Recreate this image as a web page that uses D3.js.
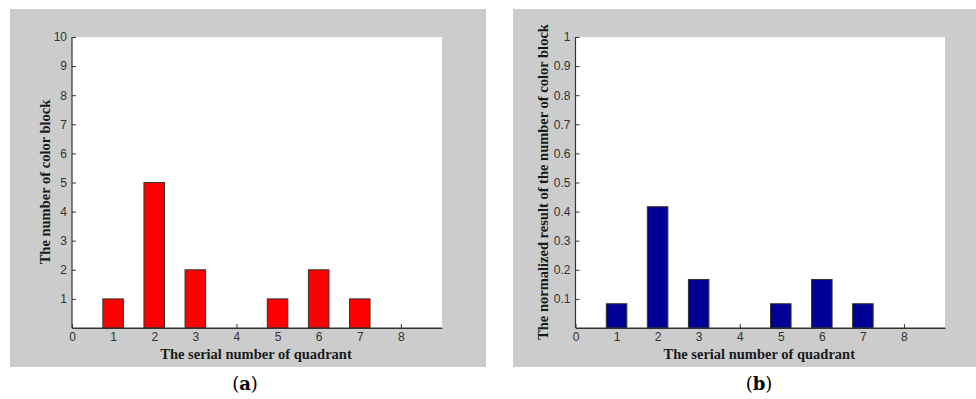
<!DOCTYPE html>
<html>
<head>
<meta charset="utf-8">
<script src="https://cdn.jsdelivr.net/npm/d3@7"></script>
<style>
  html, body { margin: 0; padding: 0; background: #ffffff; }
  svg { display: block; }
</style>
</head>
<body>
<svg id="chart" width="976" height="399"></svg>
<script>
// ---- data ----
const quadrants = [1, 2, 3, 4, 5, 6, 7, 8];
const countValues = [1, 5, 2, 0, 1, 2, 1, 0];
const normalizedValues = [0.0833, 0.4167, 0.1667, 0, 0.0833, 0.1667, 0.0833, 0];
const xTickValues = [0, 1, 2, 3, 4, 5, 6, 7, 8];
const countTicks = [1, 2, 3, 4, 5, 6, 7, 8, 9, 10];
const normTicks = [0.1, 0.2, 0.3, 0.4, 0.5, 0.6, 0.7, 0.8, 0.9, 1];
const xLabel = "The serial number of quadrant";
const yLabelA = "The number of color block";
const yLabelB = "The normalized result of the number of color block";

const svg = d3.select("#chart");

const panels = [
  { bg: [10, 9, 476, 358], plot: [72, 442], values: countValues, yMax: 10, ticks: countTicks,
    color: "#ff0000", ylabel: yLabelA, ylabelX: 45, caption: "a", capX: 245 },
  { bg: [513, 9, 463, 358], plot: [575.5, 945], values: normalizedValues, yMax: 1, ticks: normTicks,
    color: "#000096", ylabel: yLabelB, ylabelX: 543, caption: "b", capX: 759 }
];

const yTop = 37, yBottom = 328;

panels.forEach(p => {
  const g = svg.append("g");
  g.append("rect")
    .attr("x", p.bg[0]).attr("y", p.bg[1])
    .attr("width", p.bg[2]).attr("height", p.bg[3])
    .attr("fill", "#cccccc");

  const x = d3.scaleLinear().domain([0, 9]).range(p.plot);
  const y = d3.scaleLinear().domain([0, p.yMax]).range([yBottom, yTop]);

  g.append("rect")
    .attr("x", p.plot[0]).attr("y", yTop)
    .attr("width", p.plot[1] - p.plot[0]).attr("height", yBottom - yTop)
    .attr("fill", "#ffffff");

  const yAxis = d3.axisLeft(y).tickValues(p.ticks).tickSizeInner(-4).tickSizeOuter(0).tickPadding(5)
    .tickFormat(d3.format("~g"));
  const xAxis = d3.axisBottom(x).tickValues(xTickValues).tickSizeInner(-4).tickSizeOuter(0).tickPadding(4)
    .tickFormat(d3.format("d"));

  const ya = g.append("g").attr("transform", `translate(${p.plot[0]},0)`).call(yAxis);
  const xa = g.append("g").attr("transform", `translate(0,${yBottom})`).call(xAxis);
  [ya, xa].forEach(a => {
    a.select(".domain").attr("stroke", "#333333").attr("stroke-width", 1.2);
    a.selectAll(".tick line").attr("stroke", "#333333");
    a.selectAll(".tick text").attr("fill", "#333333")
      .style("font-family", "'Liberation Sans', Arial, sans-serif").style("font-size", "12px");
  });
  ya.select(".domain").attr("d", `M0,${yBottom}V${yTop}`);

  g.append("g").selectAll("rect").data(quadrants.map((q, i) => ({ q, v: p.values[i] })).filter(d => d.v > 0))
    .join("rect")
    .attr("x", d => x(d.q - 0.25))
    .attr("width", d => x(d.q + 0.25) - x(d.q - 0.25))
    .attr("y", d => y(d.v))
    .attr("height", d => yBottom - y(d.v))
    .attr("fill", p.color)
    .attr("stroke", "#333333")
    .attr("stroke-width", 1);

  g.append("line")
    .attr("x1", p.plot[0]).attr("x2", p.plot[1])
    .attr("y1", yBottom).attr("y2", yBottom)
    .attr("stroke", "#333333").attr("stroke-width", 1.2);

  g.append("text")
    .attr("x", (p.plot[0] + p.plot[1]) / 2 - 1)
    .attr("y", 359)
    .attr("text-anchor", "middle")
    .style("font-family", "'Liberation Serif', 'Times New Roman', serif")
    .style("font-weight", "bold")
    .style("font-size", "14.5px")
    .attr("fill", "#1a1a1a")
    .text(xLabel);

  g.append("text")
    .attr("transform", `translate(${p.ylabelX},182) rotate(-90)`)
    .attr("text-anchor", "middle")
    .attr("dy", "0.35em")
    .style("font-family", "'Liberation Serif', 'Times New Roman', serif")
    .style("font-weight", "bold")
    .style("font-size", "14.5px")
    .attr("fill", "#1a1a1a")
    .text(p.ylabel);

  const cap = g.append("text")
    .attr("x", p.capX).attr("y", 390)
    .attr("text-anchor", "middle")
    .style("font-family", "'DejaVu Serif', 'Liberation Serif', serif")
    .style("font-size", "18px")
    .attr("fill", "#000000");
  cap.append("tspan").text("(");
  cap.append("tspan").style("font-weight", "bold").text(p.caption);
  cap.append("tspan").text(")");
});
</script>
</body>
</html>
